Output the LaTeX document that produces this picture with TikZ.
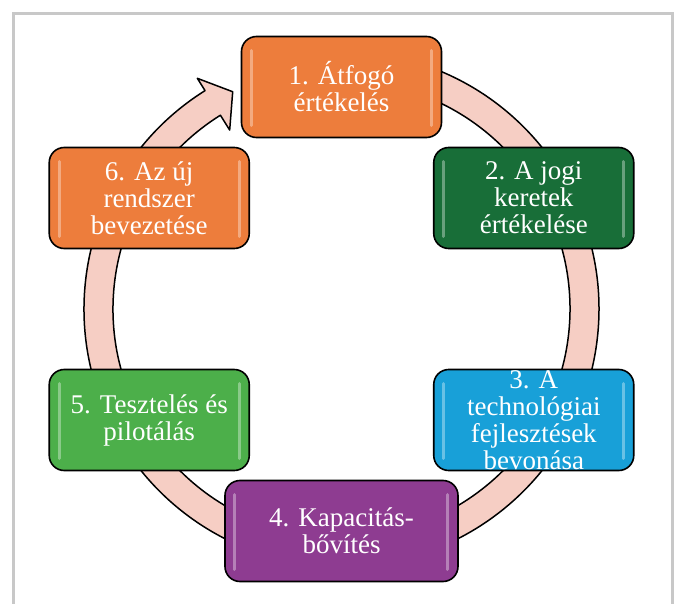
\documentclass[tikz,border=0pt]{standalone}
\usepackage{fontspec}
\setmainfont{Liberation Serif}

\definecolor{ringpink}{RGB}{246,206,196}
\definecolor{framegray}{RGB}{200,200,200}
\definecolor{boxorange}{RGB}{237,125,60}
\definecolor{boxdarkgreen}{RGB}{24,110,56}
\definecolor{boxblue}{RGB}{24,160,216}
\definecolor{boxpurple}{RGB}{142,60,145}
\definecolor{boxgreen}{RGB}{76,175,74}

\tikzset{
    stepbox/.style={rectangle, rounded corners=15pt, draw=black, line width=1.6pt,
        minimum width=200pt, minimum height=101pt,
        path picture={
            \draw [white, opacity=0.35, line width=3pt, line cap=round]
                ([shift={(10pt,-14pt)}]path picture bounding box.north west) --
                ([shift={(10pt,12pt)}]path picture bounding box.south west);
            \draw [white, opacity=0.35, line width=3pt, line cap=round]
                ([shift={(-10pt,-14pt)}]path picture bounding box.north east) --
                ([shift={(-10pt,12pt)}]path picture bounding box.south east);
        }},
    steptext/.style={text=white, align=center, inner sep=0pt,
        font=\fontsize{27}{27}\selectfont},
    ringarrow/.style={draw=black, line width=1.5pt, fill=ringpink, line join=round}
}

\begin{document}
\begin{tikzpicture}[x=1pt, y=1pt]
    \useasboundingbox (-341.5, -294) rectangle (336.5, 309);
    \draw [framegray, line width=3pt] (-327.5, -300) -- (-327.5, 295.3) -- (330.5, 295.3) -- (330.5, -300);

    \draw [ringarrow] (85:257.5) arc [start angle=85, end angle=-238, radius=257.5]
        -- (-238:272) -- (-243.4:243) -- (-238:211) -- (-238:228.5)
        arc [start angle=-238, end angle=85, radius=228.5] -- cycle;

    \node [stepbox, fill=boxorange] (s1) at (90:222) {};
    \node [stepbox, fill=boxdarkgreen] (s2) at (30:222) {};
    \node [stepbox, fill=boxblue] (s3) at (-30:222) {};
    \node [stepbox, fill=boxpurple, minimum width=233pt] (s4) at (-90:222) {};
    \node [stepbox, fill=boxgreen] (s5) at (-150:222) {};
    \node [stepbox, fill=boxorange] (s6) at (150:222) {};

    \node [steptext] (t1) at (s1) {1. Átfogó\\értékelés};
    \node [steptext] (t2) at (s2) {2. A jogi\\keretek\\értékelése};
    \node [steptext] (t3) at (s3) {3. A\\technológiai\\fejlesztések\\bevonása};
    \node [steptext] (t4) at (s4) {4. Kapacitás-\\bővítés};
    \node [steptext] (t5) at (s5) {5. Tesztelés és\\pilotálás};
    \node [steptext] (t6) at (s6) {6. Az új\\rendszer\\bevezetése};
\end{tikzpicture}
\end{document}
